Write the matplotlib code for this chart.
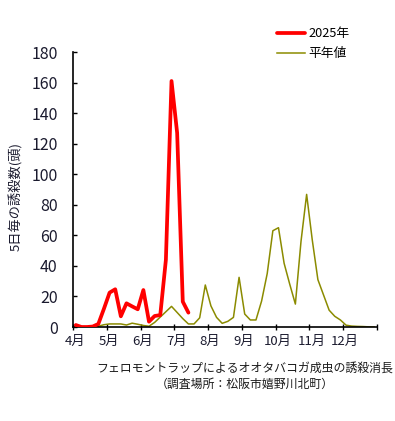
import matplotlib
matplotlib.use("Agg")
import matplotlib.pyplot as plt
import matplotlib.transforms as mtransforms
import numpy as np

plt.rcParams['font.family'] = ['Noto Sans CJK JP', 'DejaVu Sans']

months = ["4月", "5月", "6月", "7月", "8月", "9月", "10月", "11月", "12月"]
periods_per_month = 6

# 2025 counts per 5-day period (from April 1st period)
y2025 = [1.3, 0, 0, 0.3, 2, 12, 22.5, 24.7, 7, 15.5, 13.5, 11.6, 24.2, 3.5,
         7.2, 7.8, 44, 161, 127, 16.6, 9.4]
# Normal-year values per 5-day period (Apr-Dec)
normal = [0, 0, 0, 0.3, 0.5, 1.5, 2, 2, 2, 1.3, 2.5, 1.8, 1, 0.5,
          3, 6.5, 10, 13.5, 9.5, 5.5, 2, 2, 6, 27.5, 13.8, 6.3, 2.4, 3.7,
          6.3, 32.5, 8.5, 4.6, 4.6, 17, 35, 63, 65, 41.7, 28, 15,
          56, 86.8, 57, 31, 21, 11, 7, 4.6, 1.2, 0.6, 0.4, 0.3, 0.1, 0]

W, H = 395, 421
fig = plt.figure(figsize=(W / 100, H / 100), dpi=100)
ax = fig.add_axes([73 / W, 1 - 327 / H, (377 - 73) / W, (327 - 52) / H])

x_n = np.arange(len(normal)) + 0.5
x_r = np.arange(len(y2025)) + 0.5
ax.plot(x_r, y2025, color='#FF0000', lw=2.7, solid_joinstyle='round',
        solid_capstyle='round', label='2025年', zorder=3)
ax.plot(x_n, normal, color='#8B8B00', lw=1.1, label='平年値', zorder=2)

nper = periods_per_month * len(months)
ax.set_xlim(0, nper)
ax.set_ylim(0, 180)
ax.set_yticks(np.arange(0, 181, 20))
ax.tick_params(axis='y', direction='in', length=3, width=1, labelsize=11.5,
               pad=11, colors='black', labelcolor='#1a1a2e')

ax.set_xticks(np.arange(0, nper + 1, periods_per_month))
ax.set_xticklabels(months + [""])
ax.tick_params(axis='x', direction='inout', length=5, width=1, labelsize=9.5,
               pad=3, labelcolor='#1a1a2e')
offset = mtransforms.ScaledTranslation(2 / 100, 0, fig.dpi_scale_trans)
for lbl in ax.get_xticklabels():
    lbl.set_transform(lbl.get_transform() + offset)

for s in ['top', 'right']:
    ax.spines[s].set_visible(False)
for s in ['left', 'bottom']:
    ax.spines[s].set_linewidth(1.2)
    ax.spines[s].set_color('black')

ax.set_ylabel('5日毎の誘殺数(頭)', fontsize=9.5, color='#1a1a2e')
ax.yaxis.set_label_coords(-50 / (377 - 73), 0.476)

leg = ax.legend(frameon=False, loc='upper left', fontsize=9.2,
                bbox_to_anchor=(277 / W, 1 - 27 / H), bbox_transform=fig.transFigure,
                borderpad=0, borderaxespad=0, handlelength=2.2, handletextpad=0.25,
                labelspacing=0.55)

fig.text(245 / W, 1 - 368 / H, 'フェロモントラップによるオオタバコガ成虫の誘殺消長',
         ha='center', va='center', fontsize=8.6, color='#1a1a1a')
fig.text(245 / W, 1 - 384 / H, '（調査場所：松阪市嬉野川北町）',
         ha='center', va='center', fontsize=8.6, color='#1a1a1a')

fig.savefig('out.png', dpi=100)
